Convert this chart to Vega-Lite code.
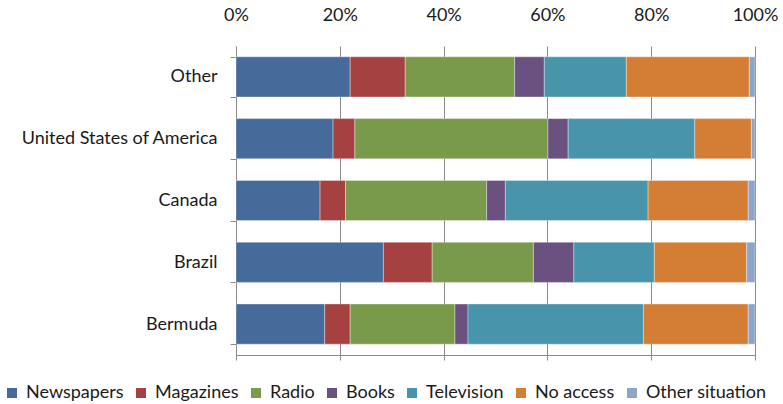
{
  "$schema": "https://vega.github.io/schema/vega-lite/v6.json",
  "width": 519,
  "height": 309,
  "autosize": "none",
  "padding": {"left": 236, "top": 46, "right": 28, "bottom": 49},
  "background": "white",
  "config": {
    "view": {"stroke": null},
    "font": "Lato",
    "axis": {"labelFont": "Lato", "labelColor": "#1a1a1a", "labelFontSize": 18, "labelLimit": 0}
  },
  "data": {
    "values": [
      {"country": "Other", "media": "Newspapers", "o": 1, "v": 22.0},
      {"country": "Other", "media": "Magazines", "o": 2, "v": 10.6},
      {"country": "Other", "media": "Radio", "o": 3, "v": 21.1},
      {"country": "Other", "media": "Books", "o": 4, "v": 5.7},
      {"country": "Other", "media": "Television", "o": 5, "v": 15.8},
      {"country": "Other", "media": "No access", "o": 6, "v": 23.7},
      {"country": "Other", "media": "Other situation", "o": 7, "v": 1.1},
      {"country": "United States of America", "media": "Newspapers", "o": 1, "v": 18.7},
      {"country": "United States of America", "media": "Magazines", "o": 2, "v": 4.2},
      {"country": "United States of America", "media": "Radio", "o": 3, "v": 37.2},
      {"country": "United States of America", "media": "Books", "o": 4, "v": 3.9},
      {"country": "United States of America", "media": "Television", "o": 5, "v": 24.4},
      {"country": "United States of America", "media": "No access", "o": 6, "v": 10.9},
      {"country": "United States of America", "media": "Other situation", "o": 7, "v": 0.7},
      {"country": "Canada", "media": "Newspapers", "o": 1, "v": 16.2},
      {"country": "Canada", "media": "Magazines", "o": 2, "v": 4.9},
      {"country": "Canada", "media": "Radio", "o": 3, "v": 27.2},
      {"country": "Canada", "media": "Books", "o": 4, "v": 3.6},
      {"country": "Canada", "media": "Television", "o": 5, "v": 27.5},
      {"country": "Canada", "media": "No access", "o": 6, "v": 19.3},
      {"country": "Canada", "media": "Other situation", "o": 7, "v": 1.3},
      {"country": "Brazil", "media": "Newspapers", "o": 1, "v": 28.4},
      {"country": "Brazil", "media": "Magazines", "o": 2, "v": 9.4},
      {"country": "Brazil", "media": "Radio", "o": 3, "v": 19.5},
      {"country": "Brazil", "media": "Books", "o": 4, "v": 7.8},
      {"country": "Brazil", "media": "Television", "o": 5, "v": 15.5},
      {"country": "Brazil", "media": "No access", "o": 6, "v": 17.8},
      {"country": "Brazil", "media": "Other situation", "o": 7, "v": 1.6},
      {"country": "Bermuda", "media": "Newspapers", "o": 1, "v": 17.1},
      {"country": "Bermuda", "media": "Magazines", "o": 2, "v": 4.9},
      {"country": "Bermuda", "media": "Radio", "o": 3, "v": 20.2},
      {"country": "Bermuda", "media": "Books", "o": 4, "v": 2.5},
      {"country": "Bermuda", "media": "Television", "o": 5, "v": 33.8},
      {"country": "Bermuda", "media": "No access", "o": 6, "v": 20.2},
      {"country": "Bermuda", "media": "Other situation", "o": 7, "v": 1.3}
    ]
  },
  "encoding": {
    "y": {
      "field": "country", "type": "nominal",
      "sort": ["Other", "United States of America", "Canada", "Brazil", "Bermuda"],
      "scale": {"paddingInner": 0.35, "paddingOuter": 0.175},
      "axis": {"title": null, "domainColor": "#8a8a8a", "tickColor": "#8a8a8a", "tickBand": "extent", "tickSize": 6, "labelPadding": 13, "grid": false}
    },
    "order": {"field": "o", "type": "quantitative"}
  },
  "layer": [
    {
      "mark": {"type": "bar", "stroke": "#ffffff", "strokeWidth": 0.6, "strokeOpacity": 0.6},
      "encoding": {
        "x": {
          "field": "v", "type": "quantitative", "stack": "normalize",
          "scale": {"domain": [0, 1], "nice": false},
          "axis": {"orient": "top", "format": "%", "values": [0, 0.2, 0.4, 0.6, 0.8, 1], "title": null, "domain": false, "ticks": false, "labelPadding": 22, "grid": true, "gridColor": "#8a8a8a", "gridWidth": 1, "zindex": 0, "labelFlush": false}
        },
        "color": {
          "field": "media", "type": "nominal",
          "scale": {
            "domain": ["Newspapers", "Magazines", "Radio", "Books", "Television", "No access", "Other situation"],
            "range": ["#466A9A", "#A54140", "#7A9A4B", "#6A5180", "#4794AB", "#D37E34", "#8EA5CB"]
          },
          "legend": {
            "orient": "none", "legendX": -233, "legendY": 338, "direction": "horizontal", "columns": 7,
            "title": null, "symbolType": "square", "symbolSize": 100, "symbolStrokeWidth": 0,
            "labelFontSize": 18, "labelFont": "Lato", "labelColor": "#1a1a1a", "labelOffset": 5, "columnPadding": 8, "padding": 0, "labelLimit": 0
          }
        }
      }
    },
    {
      "mark": {"type": "bar", "opacity": 0},
      "encoding": {
        "x": {
          "field": "v", "type": "quantitative", "stack": "normalize",
          "scale": {"domain": [0, 1], "nice": false},
          "axis": {"orient": "bottom", "values": [0, 0.2, 0.4, 0.6, 0.8, 1], "title": null, "labels": false, "grid": false, "domain": true, "domainColor": "#8a8a8a", "tickColor": "#8a8a8a", "tickSize": 5}
        }
      }
    }
  ],
  "resolve": {"axis": {"x": "independent"}}
}
